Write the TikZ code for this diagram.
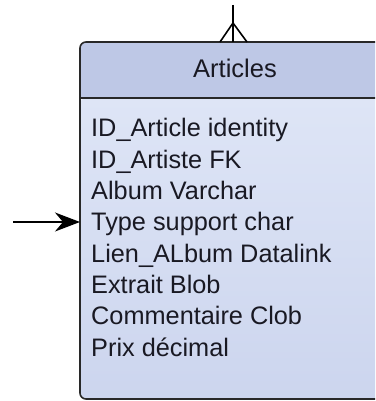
\documentclass[tikz,border=0pt]{standalone}
\usepackage{fontspec}
\setmainfont{Liberation Sans}
\usetikzlibrary{arrows.meta}
\definecolor{hdrfill}{RGB}{190,200,230}
\definecolor{bodytop}{RGB}{222,229,246}
\definecolor{bodybot}{RGB}{204,213,238}
\definecolor{txt}{RGB}{25,25,35}
\definecolor{edge}{RGB}{40,40,40}
\tikzset{
  field/.style={anchor=base west, inner sep=0pt, text=txt, font=\fontsize{25.3}{30}\selectfont},
  title/.style={anchor=base, inner sep=0pt, text=txt, font=\fontsize{25.5}{30}\selectfont},
  border/.style={draw=edge, line width=1.6pt},
  link/.style={draw=black, line width=1.8pt},
}
\begin{document}
\begin{tikzpicture}[x=1pt,y=1pt]
\useasboundingbox (0,0) rectangle (375,401);
\clip (0,0) rectangle (375,401);
% box corners
\coordinate (hl) at (80,303);
\coordinate (hr) at (386,303);
% body
\shade[top color=bodytop, bottom color=bodybot, rounded corners=6pt]
  (80,303) -- (80,2) -- (386,2) -- (386,303) -- cycle;
% header
\fill[hdrfill, rounded corners=6pt] (80,303) -- (80,359) -- (386,359) -- (386,303) [sharp corners] -- cycle;
\draw[border, rounded corners=6pt] (80,303) -- (80,359) -- (386,359) -- (386,303);
\draw[border, rounded corners=6pt] (80,303) -- (80,2) -- (386,2) -- (386,303);
\draw[border] (hl) -- (hr);
% title
\node[title] (ttl) at (235,323) {Articles};
% fields
\node[field] (f1) at (91,264) {ID\_Article identity};
\node[field] (f2) at (91,232.7) {ID\_Artiste FK};
\node[field] (f3) at (91,201.4) {Album Varchar};
\node[field] (f4) at (91,170.1) {Type support char};
\node[field] (f5) at (91,138.8) {Lien\_ALbum Datalink};
\node[field] (f6) at (91,107.5) {Extrait Blob};
\node[field] (f7) at (91,76.2) {Commentaire Clob};
\node[field] (f8) at (91,44.9) {Prix décimal};
% incoming arrow
\coordinate (asrc) at (13,179);
\coordinate (adst) at (80,179);
\draw[link, -{Stealth[length=25pt,width=19pt,inset=8pt]}] (asrc) -- (adst);
% crow's foot at top
\coordinate (ctop) at (233,396);
\coordinate (cmid) at (233,378);
\coordinate (cbase) at (233,359);
\coordinate (cl) at (220,359);
\coordinate (cr) at (247,359);
\draw[link, line width=1.6pt] (ctop) -- (cbase);
\draw[link, line width=1.6pt] (cl) -- (cmid) -- (cr);
\end{tikzpicture}
\end{document}
